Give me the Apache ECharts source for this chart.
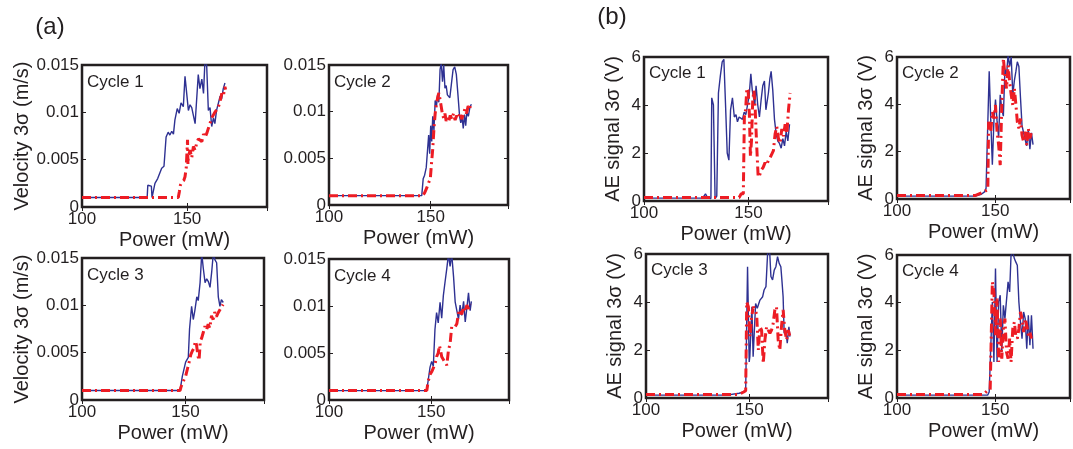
<!DOCTYPE html>
<html><head><meta charset="utf-8">
<script src="https://cdn.jsdelivr.net/npm/echarts@6/dist/echarts.min.js"></script>
<style>html,body{margin:0;padding:0;background:#fff}#c{width:1073px;height:449px}</style>
</head><body><div id="c"></div>
<script>
// ---- data ----
const xTicks = [100, 150];
const cycleLabels = ['Cycle 1', 'Cycle 2', 'Cycle 3', 'Cycle 4'];
const velName = 'Velocity 3σ (m/s)';
const aeName = 'AE signal 3σ (V)';
const powerName = 'Power (mW)';

// (a) velocity 3σ, [power mW, m/s]
const a1Blue = [[100,0.001],[131,0.001],[131.3,0.0023],[133,0.0022],[133.3,0.001],[134,0.001],[134.7,0.0025],[136,0.003],[136.5,0.0032],[137.9,0.0041],[139,0.0043],[140,0.0074],[141,0.0079],[141.8,0.0076],[142.7,0.008],[143.5,0.0077],[144.2,0.0092],[145.3,0.0104],[146.2,0.0099],[147.1,0.011],[148.2,0.0106],[149,0.0138],[149.8,0.0137],[150.6,0.0102],[151.4,0.0108],[152.2,0.0105],[153,0.0107],[153.8,0.0088],[155.3,0.014],[156.1,0.0125],[157,0.0135],[157.8,0.012],[158.5,0.0155],[159.3,0.015],[160.1,0.0102],[160.9,0.0105],[161.7,0.0085],[162.5,0.0094],[163.2,0.0088],[164,0.0102],[164.8,0.01],[165.7,0.0117],[166.4,0.0114],[167.2,0.0125],[168,0.0131]];
const a1Red = [[100,0.001],[145.8,0.001],[146.3,0.0016],[146.8,0.0023],[147.4,0.0026],[148.4,0.0028],[149,0.0032],[149.6,0.0042],[150.2,0.0071],[150.4,0.0045],[150.6,0.0053],[151.4,0.006],[152.2,0.0052],[153,0.0064],[153.8,0.006],[154.6,0.0068],[155.4,0.0072],[156.2,0.0074],[157,0.0069],[157.8,0.0077],[158.6,0.0074],[159.4,0.0078],[160.1,0.0083],[160.9,0.0081],[161.7,0.0094],[162.5,0.0092],[163.2,0.01],[164,0.0098],[164.8,0.0105],[165.6,0.0111],[166.5,0.012],[167.2,0.0117],[168,0.0127],[168.3,0.0124]];
const a2Blue = [[100,0.001],[145.6,0.001],[146.3,0.0028],[147,0.0032],[147.8,0.004],[148.4,0.0042],[149,0.0075],[149.5,0.0055],[150,0.0085],[150.5,0.0068],[151,0.0095],[151.6,0.008],[152.2,0.0112],[152.8,0.0105],[153.4,0.0118],[154,0.011],[154.6,0.0145],[155.2,0.0152],[155.8,0.0132],[156.4,0.015],[157,0.0125],[157.6,0.0128],[158.2,0.0118],[158.8,0.012],[159.4,0.0115],[160.2,0.013],[161,0.0145],[161.8,0.0148],[162.6,0.014],[163.4,0.0118],[164.2,0.0095],[164.8,0.0088],[165.4,0.0095],[166,0.0082],[166.6,0.0097],[167.2,0.0085],[167.8,0.01],[168.5,0.0095],[169.3,0.0105],[170,0.0108]];
const a2Red = [[100,0.001],[146,0.001],[147,0.0013],[148,0.0018],[149,0.0024],[149.8,0.0028],[150.4,0.0045],[151,0.006],[151.6,0.0082],[152.2,0.0098],[152.8,0.0108],[153.4,0.0115],[154,0.012],[154.6,0.0113],[155.2,0.0105],[155.8,0.0097],[156.4,0.0093],[157,0.0098],[157.6,0.009],[158.2,0.0094],[158.8,0.0089],[159.6,0.0096],[160.4,0.0092],[161.2,0.0098],[162,0.0091],[162.8,0.0096],[163.6,0.0093],[164.4,0.0099],[165.2,0.0092],[166,0.0097],[166.8,0.0103],[167.6,0.0098],[168.4,0.0106],[169.2,0.0103],[169.8,0.011]];
const a3Blue = [[100,0.001],[147.4,0.001],[148.5,0.0025],[150.1,0.004],[151.4,0.0045],[152,0.0075],[153,0.0099],[153.8,0.0085],[154.6,0.0095],[155.5,0.0109],[156.2,0.0105],[157.1,0.0124],[157.9,0.0155],[158.6,0.014],[159.5,0.0124],[160.3,0.0128],[161.1,0.0125],[161.9,0.0119],[162.7,0.0135],[163.5,0.0155],[164.3,0.0148],[165.1,0.0145],[165.9,0.0109],[166.7,0.0099],[167.4,0.0106],[168.3,0.0103]];
const a3Red = [[100,0.001],[147.4,0.001],[147.9,0.0014],[149,0.002],[150.1,0.0025],[151,0.0033],[151.8,0.004],[152.6,0.0048],[153.4,0.0052],[154.2,0.0055],[154.8,0.0062],[155.4,0.0058],[156,0.0047],[156.6,0.0042],[157.2,0.0062],[157.8,0.0065],[158.6,0.0071],[159.4,0.0078],[160.2,0.0074],[161,0.008],[161.8,0.0076],[162.6,0.0089],[163.4,0.0085],[164.2,0.0093],[165,0.0088],[165.8,0.0092],[166.6,0.0095],[167.4,0.0093],[168.2,0.0101]];
const a4Blue = [[100,0.001],[147.8,0.001],[148.5,0.0021],[149.4,0.0035],[150.2,0.0041],[151,0.0036],[151.8,0.0075],[152.6,0.0093],[153.4,0.0082],[154.3,0.0104],[155.1,0.0087],[155.9,0.0111],[156.7,0.0125],[157.6,0.014],[158.4,0.0155],[159.2,0.0142],[160,0.0155],[160.9,0.0131],[161.7,0.0104],[162.5,0.0102],[163.3,0.0086],[164.1,0.0101],[164.9,0.009],[165.8,0.0105],[166.6,0.0083],[167.4,0.0098],[168.2,0.0114],[169,0.0095],[169.6,0.0105]];
const a4Red = [[100,0.001],[147.8,0.001],[148.5,0.002],[149.4,0.0027],[150.2,0.003],[151,0.0032],[151.8,0.0038],[152.6,0.0046],[153.4,0.005],[154,0.0058],[154.6,0.0052],[155.1,0.0046],[155.9,0.0043],[156.7,0.004],[157.6,0.0037],[158.4,0.0053],[159.2,0.006],[160,0.0078],[160.9,0.008],[161.7,0.0078],[162.5,0.0081],[163.3,0.0092],[164.1,0.0096],[164.9,0.0091],[165.8,0.0099],[166.6,0.0094],[167.4,0.0101],[168.2,0.0097],[169,0.0102]];

// (b) AE signal 3σ, [power mW, V]
const b1Blue = [[100,0.12],[128,0.12],[129.4,0.3],[130.5,0.12],[132,0.1],[132.4,4.3],[133.2,4.0],[134,0.1],[134.8,0.2],[135.6,4.5],[136.5,5.2],[137.4,5.8],[138.2,5.9],[139,4.0],[139.8,2.0],[140.6,1.7],[141.4,3.8],[142.3,4.3],[143.2,3.5],[144,3.6],[144.7,3.3],[145.5,3.5],[146.3,3.5],[147.1,3.4],[147.9,3.7],[148.7,3.6],[149.5,4.0],[150.3,4.4],[151.1,5.3],[151.8,4.6],[152.4,4.3],[153,4.0],[153.6,4.8],[154.4,4.0],[155.2,3.5],[156,4.2],[156.8,4.8],[157.6,5.0],[158.3,3.8],[159.5,4.5],[160.2,5.1],[160.8,5.4],[161.6,4.6],[162.4,3.4],[163.2,2.8],[164,2.5],[164.8,2.4],[165.6,2.2],[166.4,2.6],[167.2,2.3],[168,2.9],[168.8,2.5],[169.6,3.2]];
const b1Red = [[100,0.15],[145.5,0.15],[146.5,0.3],[147.5,0.3],[148,3.5],[148.6,3.8],[149.2,4.7],[149.8,4.6],[150.4,3.6],[150.9,1.85],[151.4,2.5],[152,4.2],[152.6,4.6],[153.2,3.8],[153.8,2.5],[154.6,1.0],[155.4,1.1],[156.2,1.3],[157,1.4],[157.9,1.6],[158.7,1.5],[159.5,1.7],[160.3,1.8],[161.1,1.8],[161.9,2.1],[162.7,2.8],[163.5,3.1],[164.3,2.6],[165.1,2.4],[165.9,3.0],[166.7,2.7],[167.5,3.2],[168.3,2.8],[169.1,3.8],[169.9,4.5]];
const b2Blue = [[100,0.12],[139.7,0.12],[142.9,0.2],[144.5,0.3],[145.3,0.45],[146.1,0.5],[146.9,5.4],[147.7,3.3],[148.5,1.45],[149.3,3.3],[150.1,4.2],[150.9,3.3],[151.7,2.6],[152.5,4.4],[153.3,3.8],[154.1,3.5],[154.9,5.5],[155.7,5.2],[156.5,6.1],[157.3,5.6],[158.1,6.0],[158.9,4.4],[159.7,5.0],[160.5,5.4],[161.2,5.8],[162,5.6],[162.8,4.3],[163.6,3.1],[164.4,2.8],[165.2,2.5],[166,2.25],[166.8,2.95],[167.6,2.1],[168.4,2.8],[169.2,2.3]];
const b2Red = [[100,0.15],[140,0.15],[144.1,0.3],[146.2,0.4],[146.6,3.26],[147.7,2.84],[148.5,3.68],[149.3,3.4],[150.1,3.97],[150.9,2.84],[151.7,2.28],[152.5,1.43],[153.3,3.97],[154.1,5.94],[154.9,5.23],[155.7,4.67],[156.5,5.65],[157.3,4.95],[158.1,4.39],[158.9,3.97],[159.7,4.67],[160.5,3.97],[161.2,3.26],[162,2.98],[162.8,3.4],[163.6,2.7],[164.4,2.42],[165.2,2.84],[166,2.28],[166.8,2.98],[167.6,2.56],[168.4,2.84]];
const b3Blue = [[100,0.12],[139,0.12],[145,0.2],[147.2,0.25],[148.2,0.3],[149.1,5.47],[149.9,1.5],[150.2,1.72],[151.2,3.8],[151.8,1.72],[153,3.94],[153.8,3.74],[155.1,4.08],[156.4,4.22],[157.1,4.5],[158,4.64],[158.8,6.03],[159.6,6.44],[160.4,5.06],[161.2,4.92],[162,5.33],[162.8,5.47],[163.6,5.89],[164.4,5.61],[165.2,5.47],[165.7,4.92],[166.3,4.22],[166.8,2.7],[167.6,2.83],[168.3,2.28],[169.1,2.97],[169.6,2.56]];
const b3Red = [[100,0.15],[145,0.15],[147.2,0.25],[148.2,0.3],[148.7,4.0],[149.5,3.8],[150.3,2.56],[151.1,3.4],[151.9,3.8],[152.7,3.67],[153.5,3.5],[154.3,2.0],[155.1,2.97],[155.9,2.83],[156.7,1.44],[157.5,2.42],[158.3,2.97],[159.1,2.83],[159.9,2.7],[160.7,2.83],[161.5,3.11],[162.3,3.67],[163.1,3.8],[163.9,2.42],[164.7,2.0],[165.5,2.97],[166.3,3.67],[167.1,2.83],[168,2.42],[168.8,2.83],[169.6,2.56]];
const b4Blue = [[100,0.12],[146.1,0.12],[146.9,0.25],[147.7,0.3],[148.5,4.03],[149.3,1.51],[150.1,5.43],[150.9,1.51],[151.7,4.03],[152.5,4.31],[153.3,1.93],[154.1,3.89],[154.9,3.33],[155.7,3.33],[156.5,4.87],[157.3,4.45],[158,5.99],[158.9,6.13],[159.7,5.85],[160.4,5.71],[161.2,5.57],[162,4.03],[162.8,3.19],[163.6,2.49],[164.4,3.61],[165.2,3.33],[166,2.07],[166.8,3.47],[167.6,2.21],[168.4,3.47],[169.2,2.07]];
const b4Red = [[100,0.15],[144,0.15],[146.1,0.32],[147.4,0.35],[148.5,4.87],[149.3,4.45],[150.1,2.63],[150.9,4.17],[151.7,1.51],[152.5,3.33],[153.3,1.65],[154.1,2.91],[154.9,3.33],[155.7,1.93],[156.5,1.65],[157.3,2.49],[158,1.51],[158.9,2.91],[159.7,3.19],[160.4,2.63],[161.2,2.49],[162,2.91],[162.8,3.61],[163.6,3.33],[164.4,2.77],[165.2,3.33],[166,3.05],[166.8,2.63],[167.6,2.77],[168.4,2.49]];

// ---- layout ----
const FONT = '"Liberation Sans", Arial, Helvetica, sans-serif';
const INK = '#231f20';
const BLUE = '#2e3192';
const RED = '#ed1c24';

const panels = [
  {rect:{left:82, top:65, width:185, height:142}, kind:'vel', blue:a1Blue, red:a1Red, label:cycleLabels[0], yName:true},
  {rect:{left:329, top:65, width:179, height:140}, kind:'vel', blue:a2Blue, red:a2Red, label:cycleLabels[1], yName:false},
  {rect:{left:82, top:258, width:182, height:142}, kind:'vel', blue:a3Blue, red:a3Red, label:cycleLabels[2], yName:true},
  {rect:{left:329, top:259, width:180, height:141}, kind:'vel', blue:a4Blue, red:a4Red, label:cycleLabels[3], yName:false},
  {rect:{left:644, top:57, width:184, height:144}, kind:'ae', blue:b1Blue, red:b1Red, label:cycleLabels[0], yName:true},
  {rect:{left:897, top:57, width:184, height:142}, kind:'ae', blue:b2Blue, red:b2Red, label:cycleLabels[1], yName:true},
  {rect:{left:646, top:254, width:182, height:144}, kind:'ae', blue:b3Blue, red:b3Red, label:cycleLabels[2], yName:true},
  {rect:{left:897, top:255, width:184, height:143}, kind:'ae', blue:b4Blue, red:b4Red, label:cycleLabels[3], yName:true},
];

const grid = [], xAxis = [], yAxis = [], series = [], graphic = [];
const tick = {show:true, inside:true, length:4, lineStyle:{color:INK, width:1}};

panels.forEach((p, i) => {
  grid.push(Object.assign({show:true, borderColor:INK, borderWidth:2.5, backgroundColor:'transparent', containLabel:false}, p.rect));
  const xBase = {type:'value', gridIndex:i, min:100, max:188, interval:50, splitLine:{show:false}, axisLine:{show:false}, axisTick:tick};
  xAxis.push(Object.assign({}, xBase, {
    position:'bottom',
    name: powerName, nameLocation:'middle', nameGap:23,
    nameTextStyle:{fontSize:20, fontFamily:FONT, color:INK},
    axisLabel:{show:true, fontSize:17, fontFamily:FONT, color:INK, margin:4,
      formatter: v => xTicks.includes(v) ? String(v) : ''}
  }));
  xAxis.push(Object.assign({}, xBase, {position:'top', axisLabel:{show:false}}));
  const yBase = p.kind === 'vel'
    ? {min:0, max:0.015, interval:0.005}
    : {min:0, max:6, interval:2};
  const yCommon = Object.assign({type:'value', gridIndex:i, splitLine:{show:false}, axisLine:{show:false}, axisTick:tick}, yBase);
  yAxis.push(Object.assign({}, yCommon, {
    position:'left',
    name: p.yName ? (p.kind === 'vel' ? velName : aeName) : '',
    nameLocation:'middle', nameGap: p.kind === 'vel' ? 45 : 21,
    nameTextStyle:{fontSize:20, fontFamily:FONT, color:INK},
    axisLabel:{show:true, fontSize:17, fontFamily:FONT, color:INK, margin:3,
      formatter: v => String(+Number(v).toFixed(3))}
  }));
  yAxis.push(Object.assign({}, yCommon, {position:'right', axisLabel:{show:false}}));

  series.push({type:'line', xAxisIndex:2*i, yAxisIndex:2*i, data:p.blue, symbol:'none', clip:true,
    lineStyle:{color:BLUE, width:1.4}, z:2});
  series.push({type:'line', xAxisIndex:2*i, yAxisIndex:2*i, data:p.red, symbol:'none', clip:true,
    lineStyle:{color:RED, width:3, type:[9,4,2,4]}, z:3});

  graphic.push({type:'text', x:p.rect.left + 5, y:p.rect.top + (p.kind === 'vel' ? 17 : 16),
    style:{text:p.label, fontSize:17, fontFamily:FONT, fill:INK, align:'left', verticalAlign:'middle'}, z:10});
});

graphic.push({type:'text', x:50, y:27, style:{text:'(a)', fontSize:24, fontFamily:FONT, fill:INK, align:'center', verticalAlign:'middle'}});
graphic.push({type:'text', x:612, y:17, style:{text:'(b)', fontSize:24, fontFamily:FONT, fill:INK, align:'center', verticalAlign:'middle'}});

const chart = echarts.init(document.getElementById('c'), null, {renderer:'canvas'});
chart.setOption({animation:false, backgroundColor:'#fff', grid, xAxis, yAxis, series, graphic});
</script>
</body></html>
